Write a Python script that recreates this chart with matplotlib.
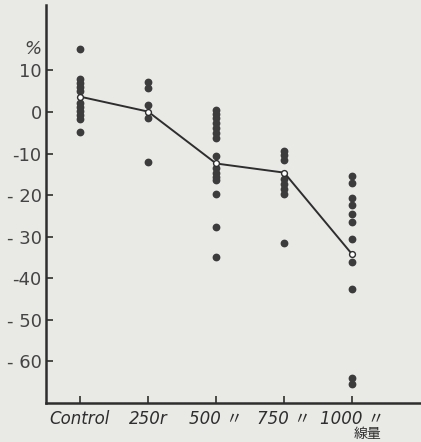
import matplotlib.pyplot as plt

# dose groups and tick labels
groups = ["Control", "250r", "500 〃", "750 〃", "1000 〃"]
y_ticks = [10, 0, -10, -20, -30, -40, -50, -60]
y_labels = ["10", "0", "-10", "- 20", "- 30", "-40", "- 50", "- 60"]

# individual values (%)
control = [15.2, 8.0, 7.1, 6.1, 5.1, 2.2, 1.3, 0.2, -0.8, -1.8, -4.9]
r250 = [7.3, 5.7, 1.7, -1.4, -12.0]
r500 = [0.5, -0.5, -1.5, -2.7, -3.9, -5.1, -6.2, -10.5, -13.6, -14.6,
        -15.6, -16.4, -19.8, -27.6, -35.0]
r750 = [-9.3, -10.4, -11.6, -16.2, -17.3, -18.6, -19.8, -31.5]
r1000 = [-15.5, -17.2, -20.8, -22.4, -24.6, -26.6, -30.5, -36.1, -42.7,
         -64.0, -65.6]
means = [3.7, 0.1, -12.4, -14.6, -34.3]

paper = "#e9e9e6"
ink = "#2e2e2e"

fig = plt.figure(figsize=(4.21, 4.42), dpi=100, facecolor=paper)
ax = fig.add_axes([0.109, 0.088, 0.891, 0.901], facecolor=paper)

for i, vals in enumerate([control, r250, r500, r750, r1000]):
    ax.plot([i] * len(vals), vals, "o", ms=4.6, color="#3c3c3c",
            mec="#3c3c3c", zorder=2)

ax.plot(range(len(means)), means, "-", color=ink, lw=1.4, zorder=3)
ax.plot(range(len(means)), means, "o", ms=4.2, mfc="white", mec=ink,
        mew=1.0, zorder=4)

ax.set_xlim(-0.5, 5.01)
ax.set_ylim(-70.1, 25.8)
ax.set_xticks(range(len(groups)))
ax.set_xticklabels(groups, fontsize=12, style="italic", color=ink,
                   family=["DejaVu Sans", "Noto Sans CJK JP"])
ax.set_yticks(y_ticks)
ax.set_yticklabels(y_labels, fontsize=13, color="#444444")

ax.tick_params(axis="both", direction="in", length=5, width=1.2,
               color=ink)
ax.tick_params(axis="y", pad=3)
ax.tick_params(axis="x", pad=5)

ax.spines["top"].set_visible(False)
ax.spines["right"].set_visible(False)
ax.spines["left"].set_linewidth(1.8)
ax.spines["bottom"].set_linewidth(1.8)
ax.spines["left"].set_color(ink)
ax.spines["bottom"].set_color(ink)

fig.text(0.078, 0.89, "%", fontsize=13, style="italic", color="#444444",
         ha="center", va="center")
fig.text(0.874, 0.018, "線量", fontsize=10, color=ink, ha="center",
         va="center", family=["Noto Sans CJK JP"])

fig.savefig("out.png", dpi=100, facecolor=paper)
